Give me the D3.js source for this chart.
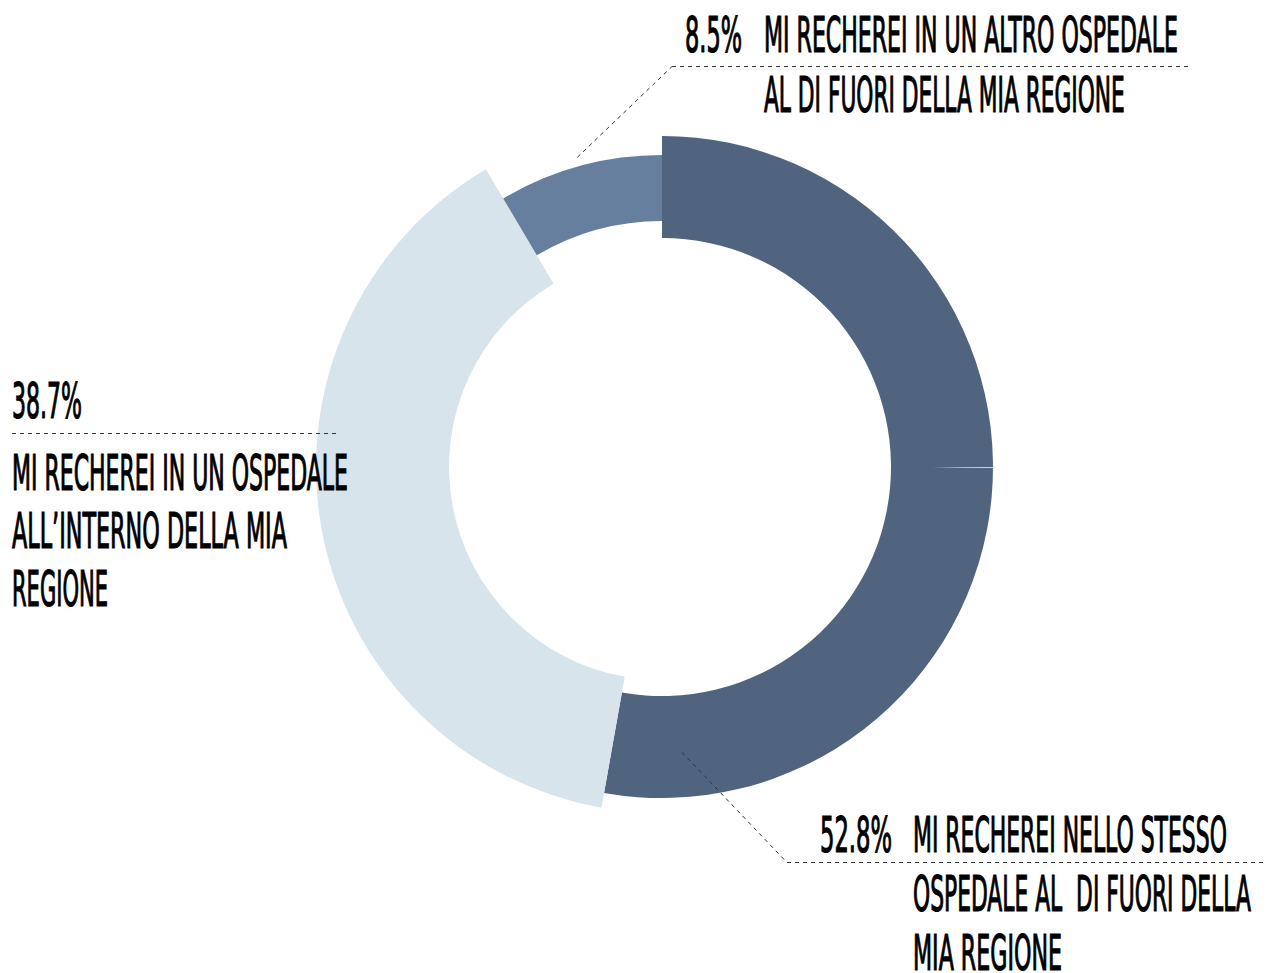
<!DOCTYPE html>
<html lang="it">
<head>
<meta charset="utf-8">
<title>Dove ti recheresti</title>
<script src="https://cdn.jsdelivr.net/npm/d3@7"></script>
<style>
  html, body { margin: 0; padding: 0; background: #ffffff; }
  svg { display: block; }
  .lbl {
    font-family: "DejaVu Sans Condensed", "Liberation Sans Narrow", "Liberation Sans", sans-serif;
    font-weight: normal;
    font-size: 50px;
    fill: #000000;
    stroke: #000000;
    stroke-width: 1.2px;
    white-space: pre;
  }
</style>
</head>
<body>
<svg id="chart" width="1266" height="973"></svg>
<script>
// Answer shares, in drawing order (clockwise from 12 o'clock)
const values = [52.8, 38.7, 8.5];
const valueLabels = values.map(v => v.toFixed(1) + "%");
const categoryLines = [
  ["MI RECHEREI NELLO STESSO", "OSPEDALE AL  DI FUORI DELLA", "MIA REGIONE"],
  ["MI RECHEREI IN UN OSPEDALE", "ALL\u2019INTERNO DELLA MIA", "REGIONE"],
  ["MI RECHEREI IN UN ALTRO OSPEDALE", "AL DI FUORI DELLA MIA REGIONE"]
];

// Styling and placement
const colors = ["#506480", "#d7e4eb", "#667f9f"];
const bands = [
  { inner: 229, outer: 331 },
  { inner: 213, outer: 346 },
  { inner: 246, outer: 312 }
];
const center = { x: 662, y: 467 };
const labelLayout = [
  { pct: { x: 820, y: 852, w: 72 }, text: { x: 913, y: 852, dy: 59, w: [314, 338, 149] },
    rule: { x1: 787, x2: 1266, y: 862 }, leader: { angle: 176, r: 286 } },
  { pct: { x: 12, y: 418, w: 70 }, text: { x: 12, y: 490, dy: 58, w: [336, 275, 96] },
    rule: { x1: 12, x2: 340, y: 433 }, leader: null },
  { pct: { x: 685, y: 52, w: 57 }, text: { x: 764, y: 52, dy: 60, w: [414, 361] },
    rule: { x1: 672, x2: 1188, y: 66 }, leader: { angle: "mid", r: 321 } }
];

const svg = d3.select("#chart");
const g = svg.append("g").attr("transform", `translate(${center.x},${center.y})`);

const pie = d3.pie().sort(null).startAngle(0).endAngle(2 * Math.PI);
const arcs = pie(values);

const arc = d3.arc()
  .innerRadius(d => bands[d.index].inner)
  .outerRadius(d => bands[d.index].outer);

g.selectAll("path.slice")
  .data(arcs)
  .join("path")
  .attr("class", "slice")
  .attr("d", arc)
  .attr("fill", (d, i) => colors[i]);

// faint seam across the first band at 3 o'clock
const seamGrad = svg.append("defs").append("linearGradient")
  .attr("id", "seam")
  .attr("gradientUnits", "userSpaceOnUse")
  .attr("x1", center.x + 270).attr("x2", center.x + bands[0].outer)
  .attr("y1", 0).attr("y2", 0);
seamGrad.append("stop").attr("offset", 0).attr("stop-color", "#ffffff").attr("stop-opacity", 0);
seamGrad.append("stop").attr("offset", 0.5).attr("stop-color", "#ffffff").attr("stop-opacity", 0.55);
seamGrad.append("stop").attr("offset", 1).attr("stop-color", "#ffffff").attr("stop-opacity", 0.75);
svg.append("line")
  .attr("x1", center.x + 270).attr("x2", center.x + bands[0].outer)
  .attr("y1", center.y + 0.5).attr("y2", center.y + 0.5)
  .attr("stroke", "url(#seam)").attr("stroke-width", 1);

// polar helper (0 = 12 o'clock, clockwise)
const polar = (deg, r) => {
  const a = deg * Math.PI / 180;
  return [center.x + r * Math.sin(a), center.y - r * Math.cos(a)];
};

const ann = svg.append("g");

// condensed label: drawn at the origin, then squeezed to the target width
function condensedText(parent, str, x, y, w) {
  const holder = parent.append("g");
  const t = holder.append("text").attr("class", "lbl").attr("x", 0).attr("y", 0).text(str);
  const natural = t.node().getComputedTextLength() || w;
  holder.attr("transform", `translate(${x},${y}) scale(${w / natural},1)`);
  return holder;
}

arcs.forEach((d, i) => {
  const L = labelLayout[i];

  // dashed rule under the first line
  ann.append("line")
    .attr("x1", L.rule.x1).attr("x2", L.rule.x2)
    .attr("y1", L.rule.y + 0.5).attr("y2", L.rule.y + 0.5)
    .attr("stroke", "#333").attr("stroke-width", 1)
    .attr("stroke-dasharray", "4,4");

  // leader from the ring to the rule
  if (L.leader) {
    const deg = L.leader.angle === "mid"
      ? ((d.startAngle + d.endAngle) / 2) * 180 / Math.PI
      : L.leader.angle;
    const [sx, sy] = polar(deg, L.leader.r);
    ann.append("line")
      .attr("x1", sx).attr("y1", sy)
      .attr("x2", L.rule.x1).attr("y2", L.rule.y + 0.5)
      .attr("stroke", "#333").attr("stroke-width", 1)
      .attr("stroke-dasharray", "4,4");
  }

  // percentage
  condensedText(ann, valueLabels[i], L.pct.x, L.pct.y, L.pct.w);

  // category text, one line per row
  categoryLines[i].forEach((line, k) => {
    condensedText(ann, line, L.text.x, L.text.y + k * L.text.dy, L.text.w[k]);
  });
});
</script>
</body>
</html>
